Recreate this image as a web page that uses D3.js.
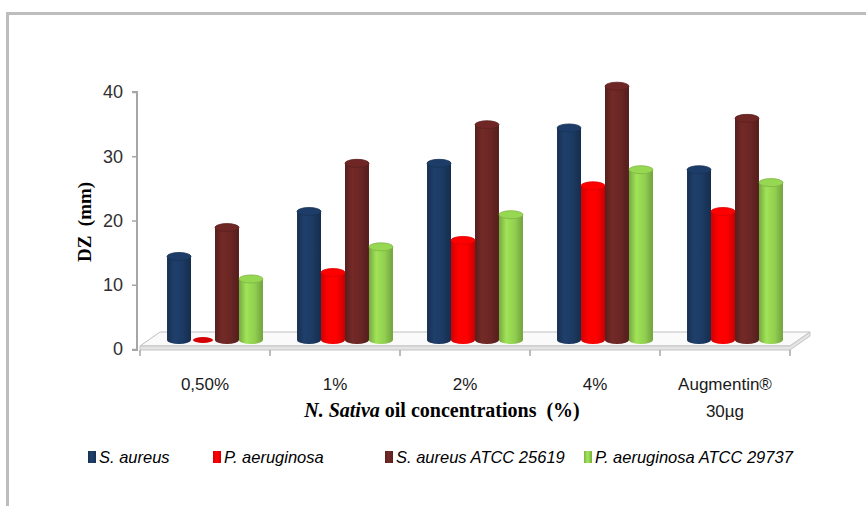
<!DOCTYPE html>
<html>
<head>
<meta charset="utf-8">
<script src="https://cdn.jsdelivr.net/npm/d3@7"></script>
<style>
  html, body { margin: 0; padding: 0; background: #ffffff; }
  svg { display: block; }
  text { white-space: pre; }
</style>
</head>
<body>
<svg id="chart" width="866" height="506"></svg>
<script>
// Inhibition zone diameters (mm) by N. sativa oil concentration
const categories = ["0,50%", "1%", "2%", "4%", "Augmentin®|30µg"];
const seriesNames = ["S. aureus", "P. aeruginosa", "S. aureus ATCC 25619", "P. aeruginosa ATCC 29737"];
const sAureus         = [13, 20, 27.5, 33, 26.5];
const pAeruginosa     = [0, 10.5, 15.5, 24, 20];
const sAureusATCC     = [17.5, 27.5, 33.5, 39.5, 34.5];
const pAeruginosaATCC = [9.5, 14.5, 19.5, 26.5, 24.5];
const yTicks = [0, 10, 20, 30, 40];

const seriesValues = [sAureus, pAeruginosa, sAureusATCC, pAeruginosaATCC];
const seriesColors = ["#1c3a63", "#ff0000", "#6a2624", "#92d050"];

const svg = d3.select("#chart");
const defs = svg.append("defs");

// outer chart frame
svg.append("rect")
  .attr("x", 7.5).attr("y", 13.5).attr("width", 900).attr("height", 600)
  .attr("fill", "none").attr("stroke", "#bdbdbd").attr("stroke-width", 3);

// scales
const y = d3.scaleLinear().domain([0, 40]).range([349, 92]);
const x0 = d3.scaleBand().domain(categories).range([140, 790]);
const x1 = d3.scaleBand().domain(seriesNames).range([0, x0.bandwidth()]).paddingOuter(0.71);

// bars stand in the middle of the floor depth
const dx = 10, dy = -9, depthX = 20, depthY = -14;

// cylinder shading gradients
seriesColors.forEach((c, i) => {
  const base = d3.color(c);
  const g = defs.append("linearGradient").attr("id", "cyl" + i)
    .attr("x1", "0%").attr("x2", "100%").attr("y1", "0%").attr("y2", "0%");
  g.append("stop").attr("offset", "0%").attr("stop-color", base.darker(0.6));
  g.append("stop").attr("offset", "30%").attr("stop-color", base.brighter(0.25));
  g.append("stop").attr("offset", "65%").attr("stop-color", base);
  g.append("stop").attr("offset", "100%").attr("stop-color", base.darker(0.7));
  const lg = defs.append("linearGradient").attr("id", "leg" + i)
    .attr("x1", "0%").attr("x2", "100%").attr("y1", "0%").attr("y2", "0%");
  lg.append("stop").attr("offset", "0%").attr("stop-color", base.darker(0.4));
  lg.append("stop").attr("offset", "45%").attr("stop-color", base.brighter(0.3));
  lg.append("stop").attr("offset", "100%").attr("stop-color", base.darker(0.5));
});

// floor slab
const fl = x0.range()[0], fr = x0.range()[1];
const fy = y(0);
const floorTop = fy - 3;
const floor = svg.append("g");
floor.append("path")
  .attr("d", `M${fl},${floorTop} L${fl + depthX},${floorTop + depthY} L${fr + depthX},${floorTop + depthY} L${fr},${floorTop} Z`)
  .attr("fill", "#fafafa").attr("stroke", "#bfbfbf").attr("stroke-width", 1);
floor.append("path")
  .attr("d", `M${fl},${floorTop} L${fr},${floorTop} L${fr + depthX},${floorTop + depthY} L${fr + depthX},${floorTop + depthY + 4} L${fr},${fy + 1} L${fl},${fy + 1} Z`)
  .attr("fill", "#e4e4e4").attr("stroke", "#c4c4c4").attr("stroke-width", 1);

// y axis
const yAxis = d3.axisLeft(y).tickValues(yTicks).tickSize(5).tickPadding(9);
const ya = svg.append("g").attr("transform", "translate(137,0)").call(yAxis);
ya.select(".domain").attr("stroke", "#a6a6a6").attr("stroke-width", 2)
  .attr("d", `M-5,${y(40)}H0V${y(0) + 1}H-5`);
ya.selectAll(".tick line").attr("stroke", "#a6a6a6").attr("stroke-width", 1.5);
ya.selectAll(".tick text").attr("fill", "#2f2f2f")
  .style("font-family", "'Liberation Sans', Arial, sans-serif").style("font-size", "18px");

// x axis ticks under the floor
const xTickPos = categories.map(c => x0(c)).concat([fr]);
svg.append("g").selectAll("line").data(xTickPos).join("line")
  .attr("x1", d => d).attr("x2", d => d)
  .attr("y1", fy + 1).attr("y2", fy + 7)
  .attr("stroke", "#a6a6a6").attr("stroke-width", 1.5);

// cylinders
const ry = 4;
const bars = svg.append("g");
categories.forEach((cat, ci) => {
  seriesNames.forEach((s, si) => {
    const v = seriesValues[si][ci];
    const w = x1.bandwidth();
    const xl = x0(cat) + x1(s) + dx;
    const rx = w / 2;
    const yb = y(0) + dy;
    const yt = y(v) + dy;
    const base = d3.color(seriesColors[si]);
    if (v <= 0) {
      bars.append("ellipse")
        .attr("cx", xl + rx).attr("cy", yb).attr("rx", rx - 2).attr("ry", ry - 1)
        .attr("fill", base.darker(0.5));
      return;
    }
    bars.append("path")
      .attr("d", `M${xl},${yt} L${xl},${yb} A${rx},${ry} 0 0 0 ${xl + w},${yb} L${xl + w},${yt} Z`)
      .attr("fill", `url(#cyl${si})`);
    bars.append("ellipse")
      .attr("cx", xl + rx).attr("cy", yt).attr("rx", rx).attr("ry", ry)
      .attr("fill", base.brighter(0.1)).attr("stroke", base.darker(0.4)).attr("stroke-width", 0.8);
  });
});

// category labels
const catFont = "'Liberation Sans', Arial, sans-serif";
const catG = svg.append("g");
categories.forEach(cat => {
  const lines = cat.split("|");
  const cx = x0(cat) + x0.bandwidth() / 2;
  const t = catG.append("text")
    .attr("x", cx).attr("y", 390)
    .attr("text-anchor", "middle").attr("fill", "#1a1a1a")
    .style("font-family", catFont).style("font-size", "17px");
  lines.forEach((ln, i) => {
    t.append("tspan").attr("x", cx).attr("dy", i === 0 ? 0 : 27).text(ln);
  });
});

// axis titles
svg.append("text")
  .attr("transform", "translate(91,222) rotate(-90)")
  .attr("text-anchor", "middle").attr("fill", "#000")
  .style("font-family", "'Liberation Serif', 'Times New Roman', serif")
  .style("font-size", "19px").style("font-weight", "bold")
  .text("DZ  (mm)");

const xt = svg.append("text")
  .attr("x", 442).attr("y", 417).attr("text-anchor", "middle").attr("fill", "#000")
  .style("font-family", "'Liberation Serif', 'Times New Roman', serif")
  .style("font-size", "20px").style("font-weight", "bold");
xt.append("tspan").style("font-style", "italic").text("N. Sativa");
xt.append("tspan").text(" oil concentrations  (%)");

// legend
const legX = [88, 213, 385, 584];
const leg = svg.append("g");
seriesNames.forEach((s, i) => {
  leg.append("rect").attr("x", legX[i]).attr("y", 451).attr("width", 8).attr("height", 12)
    .attr("fill", `url(#leg${i})`);
  leg.append("text").attr("x", legX[i] + 11).attr("y", 463)
    .attr("fill", "#000")
    .style("font-family", catFont).style("font-size", "16.5px").style("font-style", "italic")
    .text(s);
});
</script>
</body>
</html>
